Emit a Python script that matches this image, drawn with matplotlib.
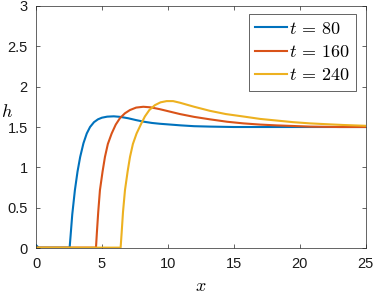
import numpy as np
import matplotlib.pyplot as plt

plt.rcParams['font.family'] = ['Liberation Sans', 'DejaVu Sans']
plt.rcParams['mathtext.fontset'] = 'cm'

# h(x) profiles
x_80 = [0, 0.2, 2.55, 2.62, 2.75, 2.95, 3.15, 3.35, 3.6, 3.85, 4.1, 4.4, 4.7, 5.0, 5.4, 5.9,
        6.4, 7.0, 7.6, 8.2, 8.8, 9.4, 10.2, 11.0, 12.0, 13.2, 15, 18, 21, 25]
h_80 = [0.04, 0.01, 0.01, 0.15, 0.42, 0.72, 0.95, 1.13, 1.30, 1.42, 1.50, 1.56, 1.595, 1.615, 1.628, 1.632,
        1.625, 1.608, 1.585, 1.565, 1.55, 1.54, 1.53, 1.52, 1.51, 1.505, 1.50, 1.50, 1.50, 1.50]

x_160 = [0, 4.55, 4.62, 4.72, 4.85, 5.05, 5.23, 5.45, 5.74, 6.05, 6.37, 6.75, 7.13, 7.6, 8.14, 8.7,
         9.4, 10.16, 10.92, 12.0, 13.19, 14.5, 15.72, 17.0, 18.25, 20.77, 23, 25]
h_160 = [0.01, 0.01, 0.2, 0.45, 0.72, 0.95, 1.13, 1.29, 1.42, 1.53, 1.61, 1.67, 1.71, 1.74, 1.75, 1.743,
         1.72, 1.69, 1.66, 1.625, 1.595, 1.565, 1.545, 1.53, 1.52, 1.505, 1.50, 1.50]

x_240 = [0, 6.42, 6.5, 6.6, 6.75, 6.95, 7.13, 7.35, 7.63, 7.95, 8.26, 8.6, 9.02, 9.45, 9.91, 10.4,
         10.92, 12.0, 13.19, 14.4, 15.72, 17.0, 18.25, 19.5, 20.77, 22, 23.3, 25]
h_240 = [0.01, 0.01, 0.2, 0.45, 0.72, 0.95, 1.13, 1.29, 1.42, 1.53, 1.63, 1.71, 1.77, 1.805, 1.82, 1.82,
         1.80, 1.75, 1.70, 1.66, 1.63, 1.60, 1.58, 1.56, 1.545, 1.535, 1.525, 1.515]

labels = [r'$t\,=\,80$', r'$t\,=\,160$', r'$t\,=\,240$']
colors = ['#0072BD', '#D95319', '#EDB120']

fig = plt.figure(figsize=(3.74, 2.94), dpi=100)
ax = fig.add_axes([0.0963, 0.155, 0.881, 0.826])

for xs, hs, lab, c in zip([x_80, x_160, x_240], [h_80, h_160, h_240], labels, colors):
    ax.plot(xs, hs, color=c, lw=1.5, label=lab)

ax.set_xlim(0, 25)
ax.set_ylim(0, 3)
ax.set_xticks([0, 5, 10, 15, 20, 25])
ax.set_yticks([0, 0.5, 1, 1.5, 2, 2.5, 3])
ax.set_yticklabels(['0', '0.5', '1', '1.5', '2', '2.5', '3'])

for s in ax.spines.values():
    s.set_color('0.15')
    s.set_linewidth(0.5)
ax.tick_params(direction='in', top=True, right=True, length=3, width=0.5,
               color='0.15', labelsize=10.5, pad=6, labelcolor='0.1')

ax.set_xlabel(r'$x$', fontsize=13, va='center')
ax.xaxis.set_label_coords(0.5, -0.155)
ax.set_ylabel(r'$h$', fontsize=13, rotation=0, va='center', ha='center')
ax.yaxis.set_label_coords(-0.088, 0.56)

leg = ax.legend(loc='upper right', bbox_to_anchor=(0.951, 0.951), bbox_transform=fig.transFigure,
                fontsize=13, handlelength=1.75, handletextpad=0.1, borderaxespad=0,
                fancybox=False, framealpha=1, labelspacing=0.35, borderpad=0.35)
leg.get_frame().set_edgecolor('0.15')
leg.get_frame().set_linewidth(0.5)

fig.savefig('out.png', dpi=100)
